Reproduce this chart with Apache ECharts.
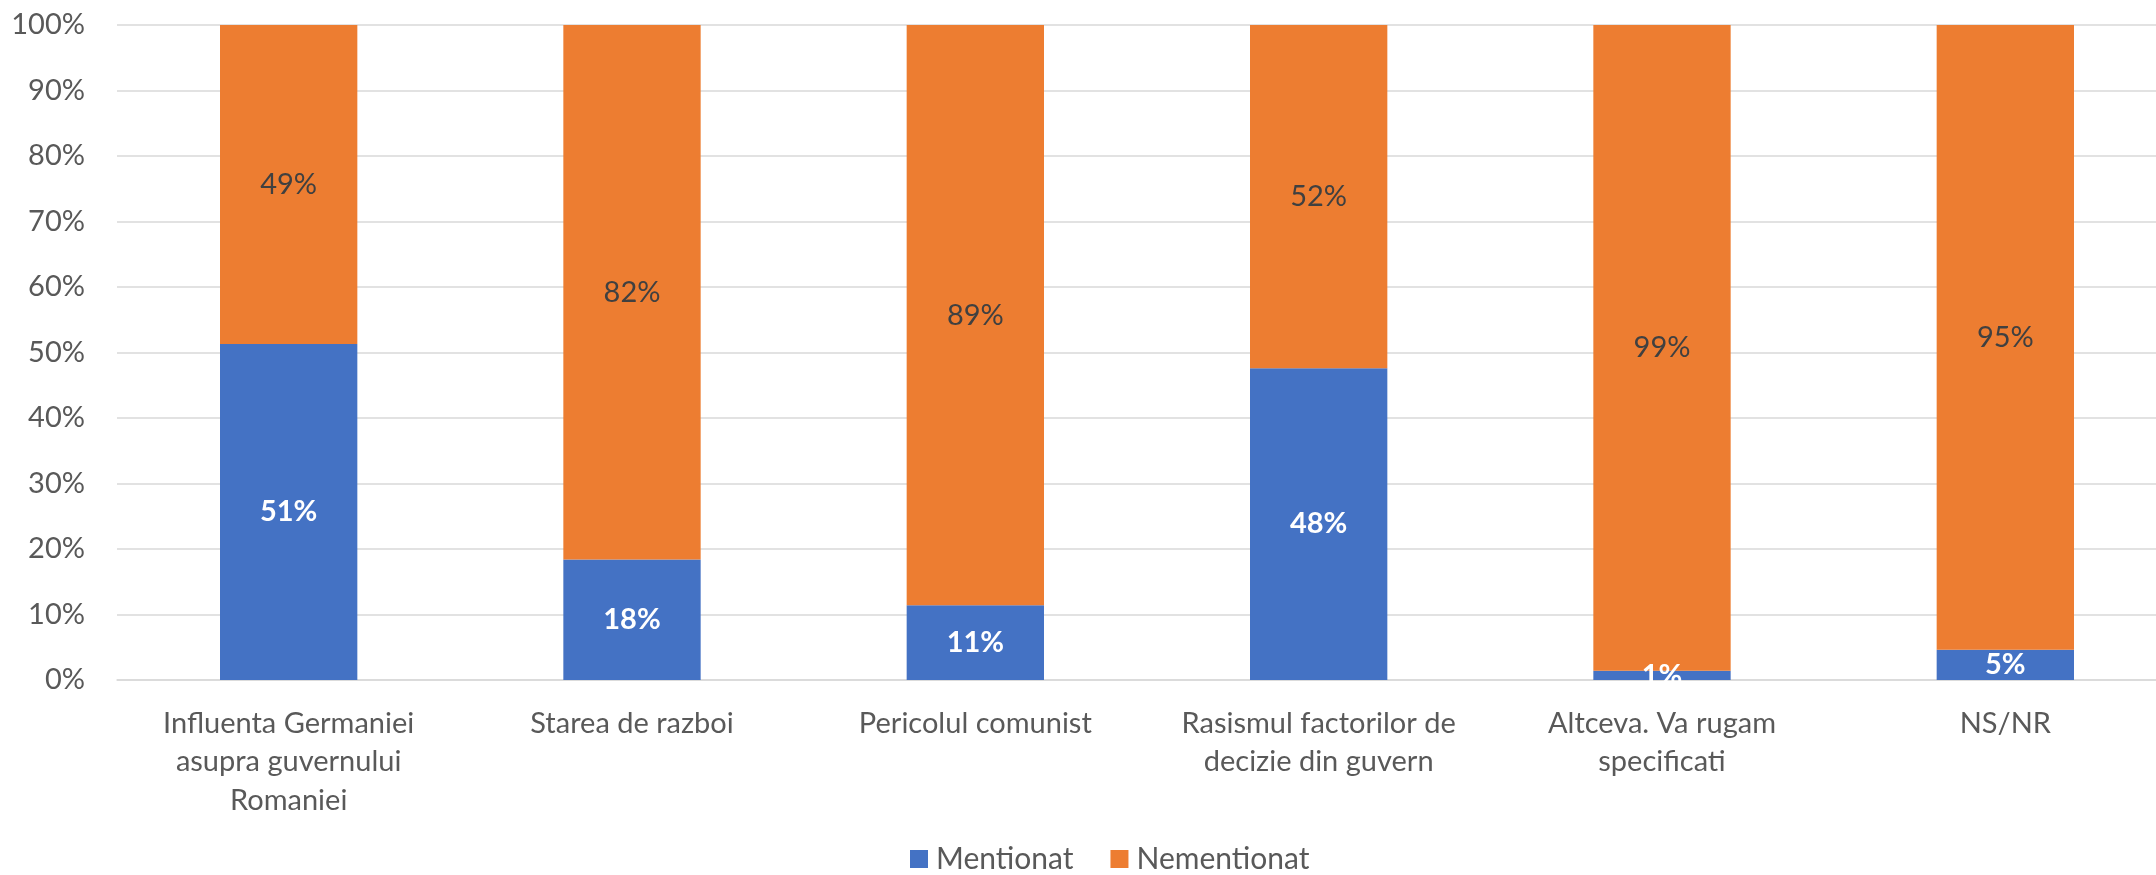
<!DOCTYPE html>
<html>
<head>
<meta charset="utf-8">
<script src="https://cdn.jsdelivr.net/npm/echarts@6/dist/echarts.min.js"></script>
<style>
  html, body { margin: 0; padding: 0; background: #fff; }
  #chart { width: 2156px; height: 875px; }
</style>
</head>
<body>
<div id="chart"></div>
<script>
// categorii (cu rupere de rand ca in original)
const categories = [
    'Influenta Germaniei\nasupra guvernului\nRomaniei',
    'Starea de razboi',
    'Pericolul comunist',
    'Rasismul factorilor de\ndecizie din guvern',
    'Altceva. Va rugam\nspecificati',
    'NS/NR'
];
const mentionat = [51.3, 18.4, 11.4, 47.6, 1.4, 4.6];
const nementionat = [48.7, 81.6, 88.6, 52.4, 98.6, 95.4];
const yTicks = [0, 10, 20, 30, 40, 50, 60, 70, 80, 90, 100];

const font = 'Lato, "Open Sans", sans-serif';
const chart = echarts.init(document.getElementById('chart'));

const option = {
    animation: false,
    textStyle: { fontFamily: font },
    grid: { left: 117, right: -21, top: 25, bottom: 195, outerBoundsMode: 'none' },
    legend: {
        top: 843,
        left: 910,
        padding: 0,
        itemWidth: 18,
        itemHeight: 18,
        itemGap: 37,
        icon: 'rect',
        textStyle: { fontFamily: font, fontSize: 30, lineHeight: 32, color: '#595959', padding: [0, 0, 0, 3] },
        data: ['Mentionat', 'Nementionat']
    },
    xAxis: {
        type: 'category',
        data: categories,
        axisLine: { lineStyle: { color: '#D9D9D9', width: 1.5 } },
        axisTick: { show: false },
        axisLabel: {
            fontFamily: font,
            fontSize: 29,
            color: '#595959',
            lineHeight: 38.5,
            margin: 24,
            interval: 0
        }
    },
    yAxis: {
        type: 'value',
        min: yTicks[0],
        max: yTicks[yTicks.length - 1],
        interval: 10,
        axisLine: { show: false },
        axisTick: { show: false },
        splitLine: { lineStyle: { color: '#D9D9D9', width: 1.5 } },
        axisLabel: {
            fontFamily: font,
            fontSize: 29,
            color: '#595959',
            margin: 32,
            formatter: '{value}%'
        }
    },
    series: [
        {
            name: 'Mentionat',
            type: 'bar',
            stack: 'total',
            barWidth: '40%',
            data: mentionat,
            itemStyle: { color: '#4472C4' },
            label: {
                show: true,
                position: 'inside',
                color: '#FFFFFF',
                fontWeight: 'bold',
                fontFamily: font,
                fontSize: 29,
                formatter: p => Math.round(p.value) + '%'
            }
        },
        {
            name: 'Nementionat',
            type: 'bar',
            stack: 'total',
            barWidth: '40%',
            data: nementionat,
            itemStyle: { color: '#ED7D31' },
            label: {
                show: true,
                position: 'inside',
                color: '#404040',
                fontFamily: font,
                fontSize: 29,
                formatter: p => Math.round(p.value) + '%'
            }
        }
    ]
};

chart.setOption(option);
window.addEventListener('resize', () => chart.resize());
</script>
</body>
</html>
